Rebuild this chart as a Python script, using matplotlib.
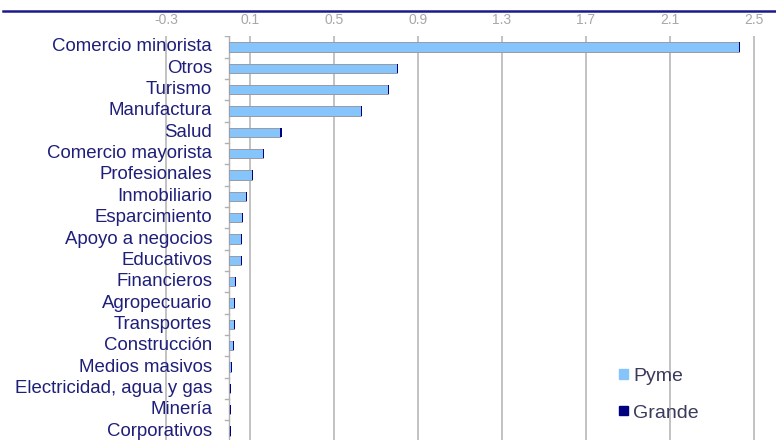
import matplotlib
matplotlib.use('Agg')
import matplotlib.pyplot as plt
from matplotlib.lines import Line2D
from matplotlib.patches import Patch

plt.rcParams['font.family'] = ['Liberation Sans', 'DejaVu Sans']

categorias = ['Comercio minorista', 'Otros', 'Turismo', 'Manufactura', 'Salud',
              'Comercio mayorista', 'Profesionales', 'Inmobiliario', 'Esparcimiento',
              'Apoyo a negocios', 'Educativos', 'Financieros', 'Agropecuario',
              'Transportes', 'Construcción', 'Medios masivos',
              'Electricidad, agua y gas', 'Minería', 'Corporativos']
pyme = [2.43, 0.80, 0.755, 0.63, 0.245, 0.163, 0.108, 0.083, 0.06,
        0.057, 0.057, 0.027, 0.024, 0.024, 0.021, 0.01, 0.005, 0.004, 0.003]
grande = [0.005] * len(categorias)
ticks = [-0.3, 0.1, 0.5, 0.9, 1.3, 1.7, 2.1, 2.5]

W, H = 776, 440
fig = plt.figure(figsize=(W / 100, H / 100), dpi=100)
ax = fig.add_axes([3 / W, -1.7 / H, 1 - 3 / W, (440 - 36.3 + 1.7) / H])

# escala: 0 en x=229 px, 210 px por unidad
x0 = -226 / 210
x1 = x0 + 773 / 210
ax.set_xlim(x0, x1)
ax.set_ylim(len(categorias) - 0.5, -0.5)

for t in ticks:
    ax.axvline(t, color='#b8b8b8', lw=1.2, zorder=0)

y = range(len(categorias))
ax.barh(y, pyme, height=0.43, color='#85c5fb', edgecolor='#9a9aa8', lw=0.7, zorder=2, label='Pyme')
ax.barh(y, grande, left=pyme, height=0.43, color='#000080', lw=0, zorder=2, label='Grande')

# eje vertical en 0 con marcas entre categorias
ax.axvline(0, color='#b0b0b0', lw=1, zorder=1)
for k in range(len(categorias) + 1):
    ax.plot([-0.02, 0], [k - 0.5, k - 0.5], color='#b0b0b0', lw=1, zorder=1)

for k, c in enumerate(categorias):
    ax.text(-0.08, k, c, ha='right', va='center', fontsize=13.4, color='#1f1f7a', zorder=3)

# etiquetas del eje x arriba
for t in ticks:
    ax.annotate(f'{t:.1f}', xy=(t, H - 20), xycoords=('data', 'figure pixels'),
                ha='center', va='center', fontsize=10, color='#a8a8a8', annotation_clip=False)

ax.set_xticks([])
ax.set_yticks([])
for s in ax.spines.values():
    s.set_visible(False)

fig.add_artist(Line2D([3 / W, 1], [1 - 11 / H, 1 - 11 / H], color='#1a1a8c', lw=1.8))

handles = [Patch(facecolor='#85c5fb', edgecolor='#85c5fb'),
           Patch(facecolor='#000080', edgecolor='#000080')]
leg = ax.legend(handles, ['Pyme', 'Grande'], loc='lower left', bbox_to_anchor=(601 / W, 1 / H),
                bbox_transform=fig.transFigure, frameon=False, fontsize=14,
                handlelength=0.5, handleheight=0.35, handletextpad=0.25, labelspacing=1.0)
for txt in leg.get_texts():
    txt.set_color('#3a3a5c')

fig.savefig('out.png', dpi=100)
